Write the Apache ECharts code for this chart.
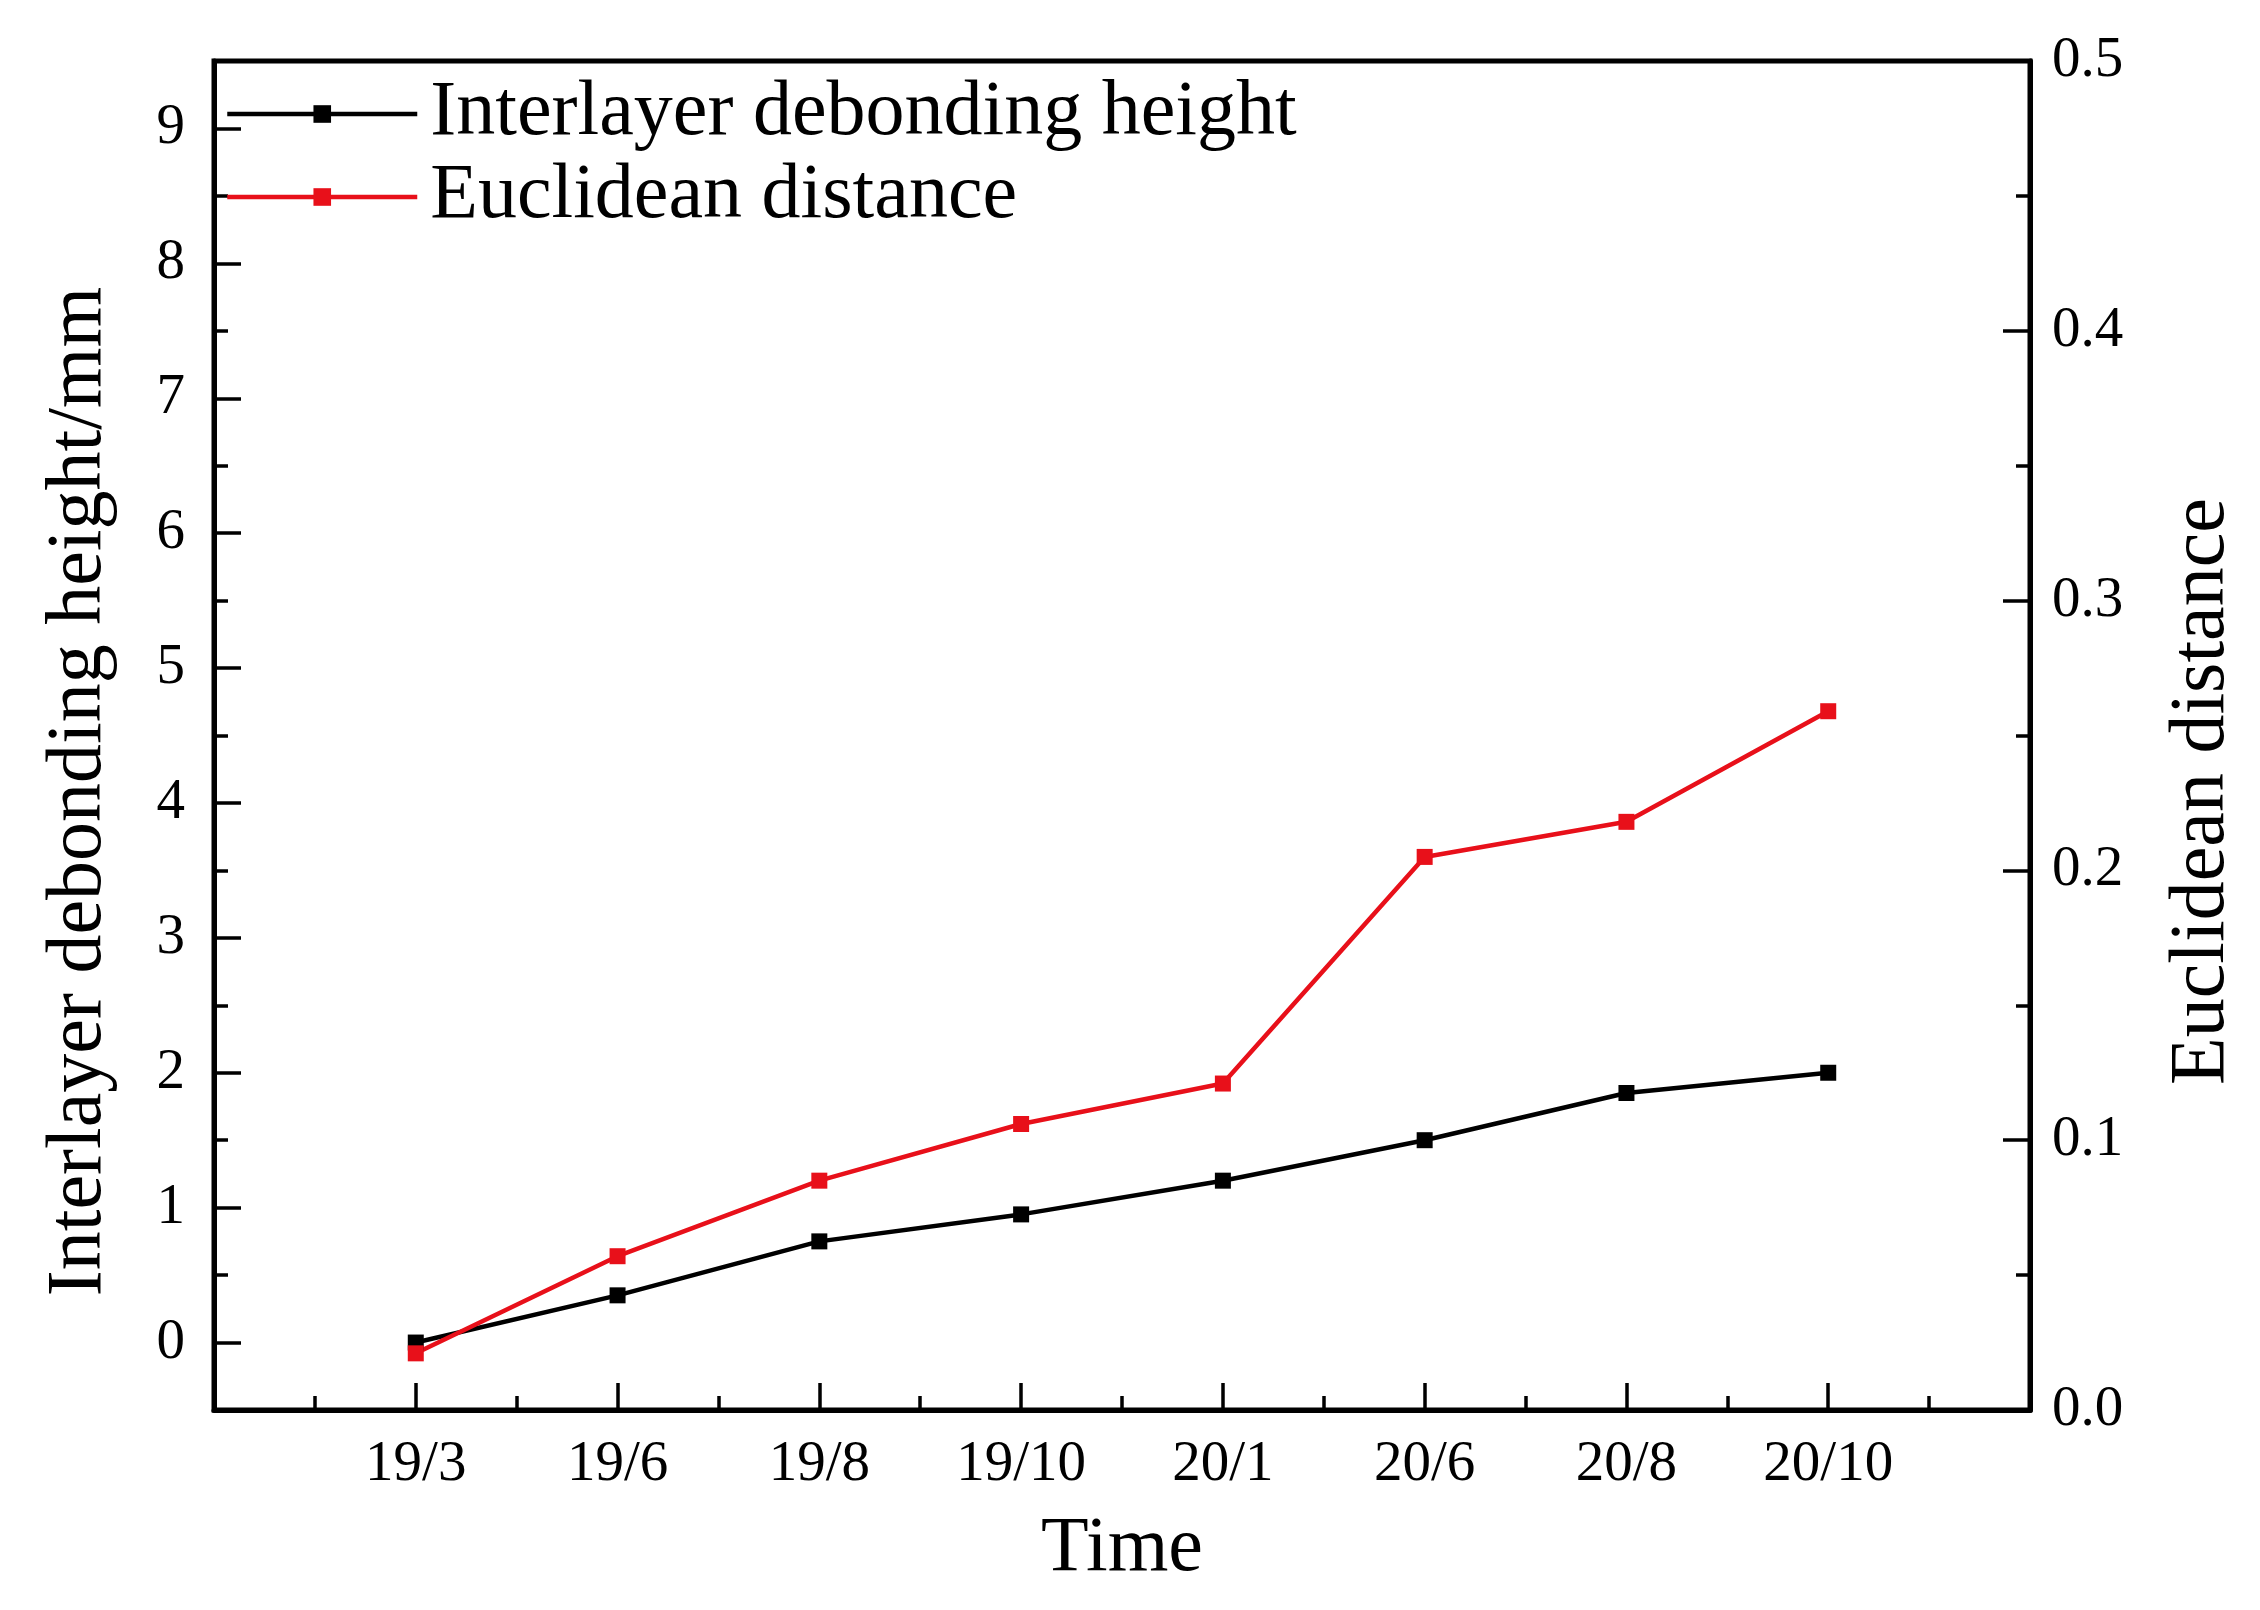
<!DOCTYPE html>
<html>
<head>
<meta charset="utf-8">
<script src="https://cdn.jsdelivr.net/npm/echarts@6/dist/echarts.min.js"></script>
<style>
html,body{margin:0;padding:0;background:#fff;}
#chart{width:2260px;height:1610px;}
</style>
</head>
<body>
<div id="chart"></div>
<script>
const categories = ['19/3','19/6','19/8','19/10','20/1','20/6','20/8','20/10'];
const heightValues = [0.0, 0.35, 0.75, 0.95, 1.2, 1.5, 1.85, 2.0];
const distanceValues = [0.021, 0.057, 0.085, 0.106, 0.121, 0.205, 0.218, 0.259];
const leftMajorTicks = [0,1,2,3,4,5,6,7,8,9];
const leftMinorTicks = [0.5,1.5,2.5,3.5,4.5,5.5,6.5,7.5,8.5];

const FONT = '"Liberation Serif", "DejaVu Serif", serif';
const RED = '#e8101a';
const chart = echarts.init(document.getElementById('chart'));
chart.setOption({
  backgroundColor: '#fff',
  animation: false,
  grid: {left: 214, right: 230, top: 61, bottom: 200, show: true, borderColor: '#000', borderWidth: 5},
  legend: {
    orient: 'vertical', left: 220, top: 70,
    itemWidth: 190, itemHeight: 22, itemGap: 5,
    lineStyle: {width: 4.5},
    textStyle: {fontFamily: FONT, fontSize: 78, lineHeight: 78, color: '#000', padding: [0,0,0,8]},
    data: ['Interlayer debonding height', 'Euclidean distance']
  },
  xAxis: {
    type: 'value', min: -1, max: 8, interval: 1,
    name: 'Time', nameLocation: 'middle', nameGap: 101,
    nameTextStyle: {fontFamily: FONT, fontSize: 78, color: '#000'},
    axisLine: {onZero: false, lineStyle: {color: '#000', width: 5}},
    axisTick: {inside: true, length: 27, lineStyle: {color: '#000', width: 3.5}},
    minorTick: {show: true, splitNumber: 2, length: 14, lineStyle: {color: '#000', width: 3.5}},
    splitLine: {show: false},
    axisLabel: {margin: 27, fontFamily: FONT, fontSize: 57, color: '#000',
      formatter: v => (Number.isInteger(v) && v >= 0 && v < categories.length) ? categories[v] : ''}
  },
  yAxis: [
    {
      type: 'value', position: 'left', min: -0.5, max: 9.5, interval: 0.5,
      name: 'Interlayer debonding height/mm', nameLocation: 'middle', nameGap: 95, nameRotate: 90,
      nameTextStyle: {fontFamily: FONT, fontSize: 78, color: '#000', padding: [0, 112, 0, 0]},
      axisLine: {show: true, onZero: false, lineStyle: {color: '#000', width: 5}},
      axisTick: {show: true, inside: true, length: 27, customValues: leftMajorTicks, lineStyle: {color: '#000', width: 3.5}},
      splitLine: {show: false},
      axisLabel: {margin: 29, fontFamily: FONT, fontSize: 57, color: '#000', customValues: leftMajorTicks,
        formatter: v => String(v)}
    },
    {
      type: 'value', position: 'right', min: 0, max: 0.5, interval: 0.1,
      name: 'Euclidean distance', nameLocation: 'middle', nameGap: 134, nameRotate: 90,
      nameTextStyle: {fontFamily: FONT, fontSize: 78, color: '#000', padding: [0, 112, 0, 0]},
      axisLine: {show: true, onZero: false, lineStyle: {color: '#000', width: 5}},
      axisTick: {show: true, inside: true, length: 27, lineStyle: {color: '#000', width: 3.5}},
      minorTick: {show: true, splitNumber: 2, length: 14, lineStyle: {color: '#000', width: 3.5}},
      splitLine: {show: false},
      axisLabel: {margin: 22, fontFamily: FONT, fontSize: 57, color: '#000', formatter: v => v.toFixed(1)}
    },
    {
      type: 'value', position: 'left', min: -0.5, max: 9.5, interval: 0.5,
      axisLine: {show: false, onZero: false},
      axisTick: {show: true, inside: true, length: 14, customValues: leftMinorTicks, lineStyle: {color: '#000', width: 3.5}},
      axisLabel: {show: false},
      splitLine: {show: false}
    }
  ],
  series: [
    {
      name: 'Interlayer debonding height', type: 'line', yAxisIndex: 0,
      data: heightValues.map((v, i) => [i, v]),
      symbol: 'rect', symbolSize: 16,
      lineStyle: {color: '#000', width: 4.5}, itemStyle: {color: '#000'}
    },
    {
      name: 'Euclidean distance', type: 'line', yAxisIndex: 1,
      data: distanceValues.map((v, i) => [i, v]),
      symbol: 'rect', symbolSize: 16,
      lineStyle: {color: RED, width: 4.5}, itemStyle: {color: RED}
    }
  ]
});
</script>
</body>
</html>
